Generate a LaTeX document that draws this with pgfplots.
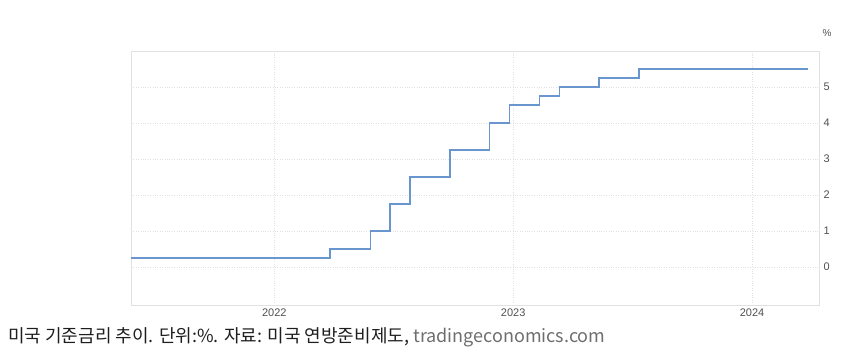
\documentclass[border=0pt]{standalone}
\usepackage{pgfplots}
\pgfplotsset{compat=1.18}
\usepackage{fontspec}
\setmainfont{Liberation Sans}
\newfontfamily\kr{Noto Sans CJK KR}
\definecolor{lineblue}{RGB}{106,150,207}
\definecolor{gridc}{RGB}{225,225,225}
\definecolor{tickc}{RGB}{80,80,80}
\definecolor{urlc}{RGB}{110,110,110}
\definecolor{capc}{RGB}{30,30,30}
\begin{document}
\begin{tikzpicture}[x=1pt,y=1pt]
\path[use as bounding box] (0,0) rectangle (847,355);
\begin{axis}[
  at={(131pt,50pt)}, anchor=south west,
  scale only axis, width=688pt, height=254pt,
  xmin=2021.40, xmax=2024.28, ymin=-1.05, ymax=6.0,
  xtick={2022,2023,2024}, xticklabels={2022,2023,2024},
  ytick={0,1,2,3,4,5},
  yticklabel pos=right,
  major tick length=0pt,
  grid=major,
  major grid style={gridc, dotted, line width=0.7pt},
  axis line style={gridc, line width=0.8pt},
  ticklabel style={font=\fontsize{11}{13}\selectfont, text=tickc},
  xticklabel style={yshift=0pt},
  yticklabel style={xshift=1pt, anchor=west},
  /pgf/number format/assume math mode=true,
  clip=false,
]
\addplot[const plot, lineblue, line width=1.7pt] coordinates {
(2021.40,0.25) (2022.234,0.5) (2022.402,1.0) (2022.485,1.75) (2022.569,2.5)
(2022.736,3.25) (2022.901,4.0) (2022.985,4.5) (2023.11,4.75) (2023.194,5.0)
(2023.36,5.25) (2023.527,5.5) (2024.236,5.5)
};
\node[font=\fontsize{10}{12}\selectfont, text=tickc] at ([xshift=8pt,yshift=18pt]rel axis cs:1,1) {\%};
\end{axis}
\node[anchor=west, inner sep=0pt, text=capc, font=\kr\fontsize{18}{20}\selectfont] at (8,18) {미국 기준금리 추이. 단위:\%. 자료: 미국 연방준비제도, \textcolor{urlc}{tradingeconomics.com}};
\end{tikzpicture}
\end{document}
